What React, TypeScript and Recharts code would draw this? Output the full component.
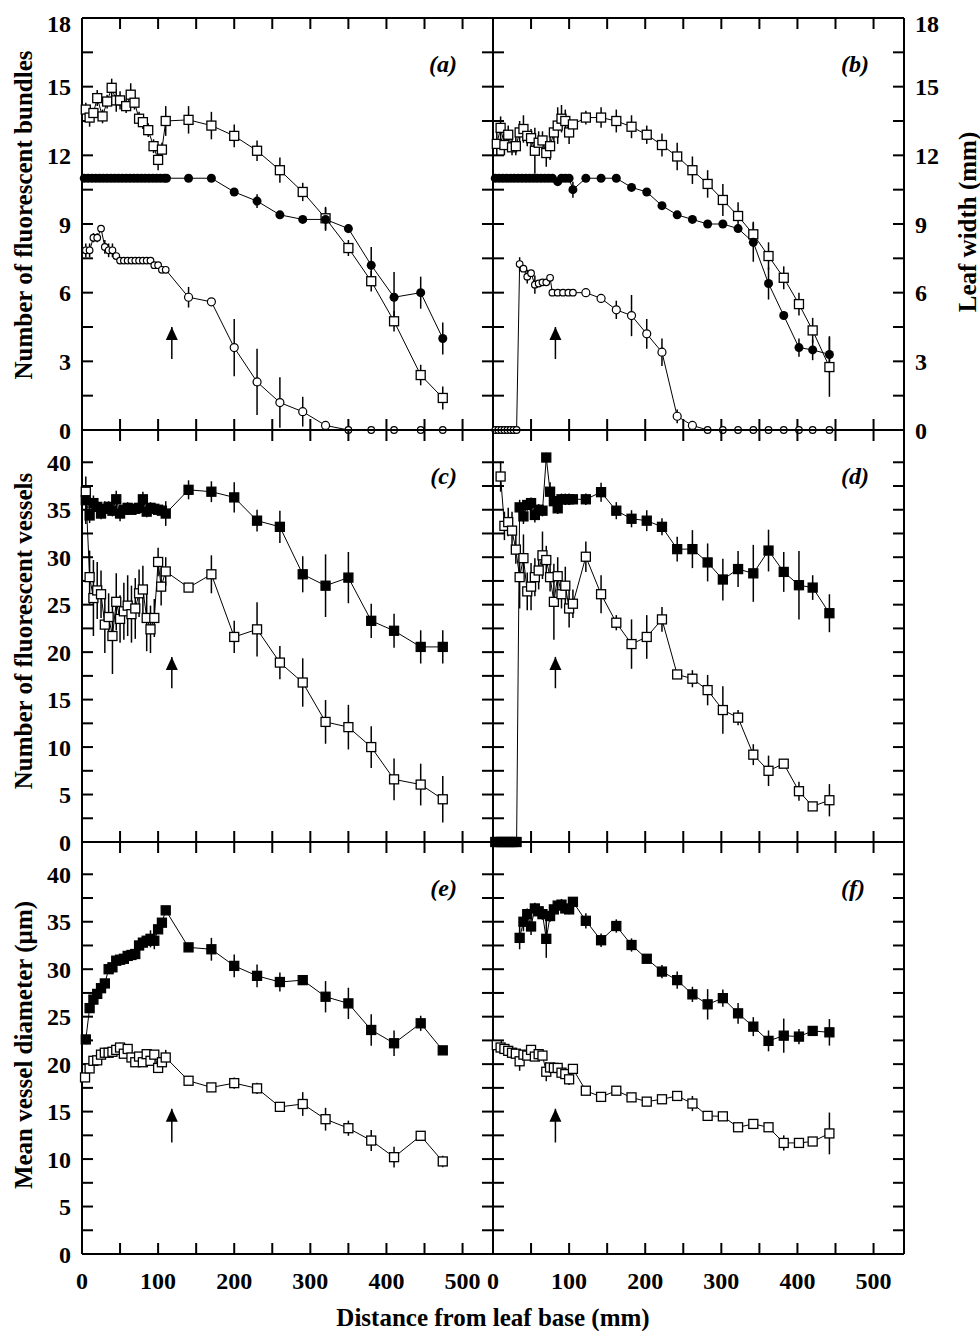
import React from "react";
import { LineChart, Line, XAxis, YAxis, ErrorBar, ReferenceLine, ReferenceDot } from "recharts";

// [distance (mm), value, s.e.]
type Pt = [number, number, number?];

// ---- panel (a): bundles / leaf width, left column
const aSquares: Pt[] = [
  [5, 14.0, 0.3], [10, 13.65, 0.4], [15, 13.85, 0.2], [20, 14.5, 0.35], [27, 13.7, 0.3], [33, 14.35, 0.3],
  [39, 14.95, 0.4], [45, 14.4, 0.5], [50, 14.4, 0.4], [58, 14.15, 0.3], [64, 14.65, 0.5], [69, 14.3, 0.3],
  [75, 13.6, 0.3], [80, 13.45, 0.3], [87, 13.1, 0.3], [94, 12.4, 0.3], [100, 11.8, 0.45], [105, 12.25, 0.3],
  [110, 13.5, 0.65], [140, 13.55, 0.6], [170, 13.3, 0.6], [200, 12.85, 0.5], [230, 12.2, 0.45], [260, 11.35, 0.55],
  [290, 10.4, 0.4], [320, 9.25, 0.5], [350, 7.95, 0.35], [380, 6.5, 0.45], [410, 4.75, 0.45], [445, 2.4, 0.45],
  [474, 1.4, 0.5],
];
const aFilled: Pt[] = [
  [3, 11], [8, 11], [13, 11], [18, 11], [23, 11], [28, 11], [33, 11], [38, 11], [43, 11], [48, 11], [53, 11],
  [58, 11], [63, 11], [68, 11], [73, 11], [78, 11], [83, 11], [88, 11], [93, 11], [98, 11], [103, 11], [108, 11],
  [111, 11], [140, 11], [170, 11], [200, 10.4, 0.15], [230, 10.0, 0.3], [260, 9.4, 0.1], [290, 9.2, 0.1],
  [320, 9.2, 0.5], [350, 8.8, 0.2], [380, 7.2, 0.8], [410, 5.8, 1.1], [445, 6.0, 0.7], [474, 4.0, 0.7],
];
const aCircles: Pt[] = [
  [5, 7.85, 0.3], [10, 7.85, 0.3], [15, 8.4, 0.2], [20, 8.4, 0.2], [25, 8.8], [30, 8.0, 0.3], [35, 7.85, 0.3],
  [40, 7.85, 0.3], [45, 7.6], [50, 7.4], [55, 7.4], [60, 7.4], [65, 7.4], [70, 7.4], [75, 7.4], [80, 7.4],
  [85, 7.4], [90, 7.4], [95, 7.2], [100, 7.2], [105, 7.0], [110, 7.0], [140, 5.8, 0.45], [170, 5.6],
  [200, 3.6, 1.25], [230, 2.1, 1.45], [260, 1.2, 1.1], [290, 0.8, 0.65], [320, 0.2], [350, 0], [380, 0],
  [410, 0], [445, 0], [474, 0],
];

// ---- panel (b)
const bSquares: Pt[] = [
  [5, 12.5, 0.5], [10, 13.2, 0.5], [15, 12.45, 0.45], [20, 12.9, 0.4], [25, 12.35, 0.35], [30, 12.4, 0.4],
  [35, 13.0, 0.5], [40, 13.15, 0.6], [45, 12.85, 0.45], [50, 12.75, 0.4], [55, 12.2, 1.0], [60, 12.55, 0.5],
  [65, 12.65, 0.4], [70, 12.1, 0.6], [75, 12.4, 0.6], [80, 13.0, 0.5], [85, 13.3, 0.8], [90, 13.6, 0.6],
  [95, 13.5, 0.5], [100, 13.0, 0.5], [105, 13.35], [122, 13.65, 0.3], [142, 13.65, 0.45], [162, 13.5, 0.5],
  [182, 13.25, 0.5], [202, 12.9, 0.4], [222, 12.45, 0.5], [242, 11.95, 0.6], [262, 11.35, 0.6],
  [282, 10.75, 0.6], [302, 10.05, 0.7], [322, 9.35, 0.6], [342, 8.55, 0.55], [362, 7.6, 0.6], [382, 6.65, 0.5],
  [402, 5.5, 0.5], [420, 4.35, 0.55], [442, 2.75, 1.3],
];
const bFilled: Pt[] = [
  [3, 11], [8, 11], [13, 11], [18, 11], [23, 11], [28, 11], [33, 11], [38, 11], [43, 11], [48, 11], [53, 11],
  [58, 11], [63, 11], [68, 11], [73, 11], [78, 11], [85, 10.85], [90, 11], [95, 11], [100, 11], [105, 10.5, 0.35],
  [122, 11], [142, 11], [162, 11], [182, 10.6], [202, 10.4], [222, 9.8], [242, 9.4], [262, 9.2], [282, 9.0],
  [302, 9.0], [322, 8.8], [342, 8.2, 0.85], [362, 6.4, 0.7], [382, 5.0], [402, 3.6, 0.4], [420, 3.5, 0.45],
  [442, 3.3, 0.8],
];
const bCircles: Pt[] = [
  [3, 0], [7, 0], [11, 0], [15, 0], [19, 0], [23, 0], [27, 0], [31, 0], [35, 7.25, 0.3], [40, 7.05],
  [45, 6.7, 0.3], [50, 6.85], [55, 6.35, 0.4], [60, 6.4], [65, 6.45], [70, 6.45], [75, 6.65], [78, 6.0],
  [85, 6.0], [92, 6.0], [99, 6.0], [105, 6.0], [122, 6.0], [142, 5.75], [162, 5.25, 0.4], [182, 5.0, 0.9],
  [202, 4.2, 0.65], [222, 3.4, 0.6], [242, 0.6, 0.3], [262, 0.2], [282, 0], [302, 0], [322, 0], [342, 0],
  [362, 0], [382, 0], [402, 0], [420, 0], [442, 0],
];

// ---- panel (c): fluorescent vessels
const cFilled: Pt[] = [
  [5, 36.0, 2.5], [10, 34.4, 0.8], [15, 35.7, 0.8], [20, 35.3, 0.6], [25, 34.6, 0.6], [30, 35.1, 0.8],
  [35, 35.3, 0.6], [40, 34.9, 0.6], [45, 36.1, 0.9], [50, 34.6, 0.8], [55, 35.0, 0.6], [60, 35.2, 0.6],
  [65, 35.0, 0.5], [70, 35.1, 0.6], [75, 35.2, 0.5], [80, 36.1, 0.8], [85, 34.8, 0.6], [90, 35.2, 0.6],
  [95, 35.1, 0.6], [100, 35.0, 0.5], [105, 34.9, 0.5], [110, 34.6, 1.3], [140, 37.1, 1.0], [170, 36.9, 1.1],
  [200, 36.3, 1.6], [230, 33.85, 1.15], [260, 33.2, 1.7], [290, 28.2, 1.9], [320, 27.0, 3.3], [350, 27.85, 2.7],
  [380, 23.3, 1.8], [410, 22.25, 1.8], [445, 20.55, 1.75], [474, 20.55, 1.75],
];
const cSquares: Pt[] = [
  [5, 36.9, 0.5], [10, 27.9, 2.8], [15, 25.7, 4.0], [20, 26.5, 3.0], [25, 26.1, 2.5], [30, 22.9, 3.0],
  [35, 23.7, 2.5], [40, 21.7, 4.0], [45, 25.3, 3.0], [50, 23.5, 2.5], [55, 24.3, 3.0], [60, 24.9, 3.2],
  [65, 24.0, 3.0], [70, 24.6, 3.2], [75, 26.2, 2.5], [80, 26.6, 2.5], [85, 23.6, 3.5], [90, 22.4, 2.5],
  [95, 23.6, 2.0], [100, 29.5, 1.5], [104, 26.9, 2.0], [110, 28.5, 1.5], [140, 26.8], [170, 28.2, 2.0],
  [200, 21.6, 1.7], [230, 22.4, 2.85], [260, 18.9, 1.75], [290, 16.8, 2.55], [320, 12.65, 2.3],
  [350, 12.1, 2.35], [380, 10.0, 2.2], [410, 6.6, 2.2], [445, 6.05, 2.2], [474, 4.5, 2.45],
];

// ---- panel (d)
const dFilled: Pt[] = [
  [3, 0], [7, 0], [11, 0], [15, 0], [19, 0], [23, 0], [27, 0], [31, 0], [35, 35.25, 0.8], [40, 34.3, 0.8],
  [45, 35.5, 0.6], [50, 35.7, 0.6], [55, 34.45, 0.8], [60, 35.0, 0.6], [65, 34.9, 0.6], [70, 40.5, 0.5],
  [75, 36.9, 1.0], [80, 35.9, 0.6], [85, 35.15, 0.6], [90, 36.1, 0.6], [95, 36.1, 0.6], [100, 36.1, 0.6],
  [105, 36.1, 0.5], [122, 36.1, 0.6], [142, 36.85, 1.0], [162, 34.9, 0.9], [182, 34.05, 0.9], [202, 33.85, 1.1],
  [222, 33.2, 0.9], [242, 30.85, 1.3], [262, 30.85, 2.0], [282, 29.45, 2.0], [302, 27.65, 2.2], [322, 28.75, 1.9],
  [342, 28.3, 3.0], [362, 30.7, 2.2], [382, 28.45, 2.1], [402, 27.05, 3.6], [420, 26.8, 1.3], [442, 24.1, 2.0],
];
const dSquares: Pt[] = [
  [10, 38.5, 1.6], [15, 33.3, 1.5], [20, 33.7, 1.5], [25, 32.8, 2.0], [30, 30.8, 1.5], [35, 27.9, 3.3],
  [40, 29.9, 2.5], [45, 26.4, 2.0], [50, 26.9, 2.5], [55, 27.9, 2.0], [60, 28.6, 2.0], [65, 30.2, 2.5],
  [70, 29.7, 1.5], [75, 27.9, 1.5], [80, 25.3, 4.0], [85, 28.0, 2.0], [90, 26.1, 1.5], [95, 27.0, 2.0],
  [100, 24.6, 2.0], [105, 25.1, 1.5], [122, 30.05, 1.6], [142, 26.1, 2.0], [162, 23.1, 0.8], [182, 20.85, 2.6],
  [202, 21.6, 2.3], [222, 23.45, 1.3], [242, 17.65], [262, 17.2, 0.9], [282, 16.0, 1.6], [302, 13.9, 2.5],
  [322, 13.1, 0.8], [342, 9.2, 1.1], [362, 7.5, 1.6], [382, 8.25], [402, 5.35, 1.0], [420, 3.75], [442, 4.4, 1.7],
];

// ---- panel (e): mean vessel diameter
const eFilled: Pt[] = [
  [5, 22.6, 0.5], [10, 25.9, 0.5], [15, 26.8, 0.4], [20, 27.4, 0.4], [25, 28.0, 0.4], [30, 28.5, 0.4],
  [35, 30.0, 0.5], [40, 30.2, 0.6], [45, 30.9, 0.5], [50, 31.0, 0.6], [55, 31.1, 0.5], [60, 31.4, 0.6],
  [65, 31.5, 0.6], [70, 31.6, 0.5], [75, 32.5, 0.6], [80, 32.8, 0.5], [85, 33.0, 0.6], [90, 33.2, 0.9],
  [95, 33.0, 0.9], [100, 34.2, 0.5], [105, 34.9, 0.5], [110, 36.2, 0.3], [140, 32.3], [170, 32.1, 1.2],
  [200, 30.35, 1.2], [230, 29.3, 1.2], [260, 28.65, 1.0], [290, 28.85, 0.3], [320, 27.1, 1.65], [350, 26.4, 1.65],
  [380, 23.6, 1.65], [410, 22.2, 1.35], [445, 24.3, 0.8], [474, 21.45],
];
const eSquares: Pt[] = [
  [4, 18.6, 0.4], [10, 19.55, 0.4], [15, 20.35, 0.4], [20, 20.4, 0.3], [25, 21.0, 0.3], [30, 21.2, 0.3],
  [35, 21.2, 0.3], [40, 21.3, 0.4], [45, 21.5, 0.5], [50, 21.75, 0.5], [55, 21.1, 0.4], [60, 21.6, 0.4],
  [65, 20.7, 0.3], [70, 20.2, 0.3], [75, 20.8, 0.3], [80, 20.2, 0.3], [85, 21.05, 0.3], [90, 20.35, 0.4],
  [95, 21.0, 0.4], [100, 19.6, 0.3], [105, 20.2, 0.3], [110, 20.7, 0.8], [140, 18.25], [170, 17.55],
  [200, 18.0, 0.6], [230, 17.45, 0.6], [260, 15.5], [290, 15.8, 1.25], [320, 14.2, 1.2], [350, 13.25, 0.8],
  [380, 11.95, 1.1], [410, 10.2, 1.1], [445, 12.45], [474, 9.75, 0.6],
];

// ---- panel (f)
const fFilled: Pt[] = [
  [35, 33.3, 1.2], [40, 35.0, 1.0], [45, 35.8, 0.6], [50, 34.5, 0.9], [55, 36.4, 0.6], [60, 36.1, 0.6],
  [65, 35.8, 0.6], [70, 33.2, 2.0], [75, 35.6, 0.6], [80, 36.3, 0.6], [85, 36.7, 0.6], [90, 36.8, 0.6],
  [95, 36.4, 0.6], [100, 36.3, 0.5], [105, 37.1, 0.3], [122, 35.1, 0.8], [142, 33.05, 0.7], [162, 34.55, 0.7],
  [182, 32.55, 0.7], [202, 31.1, 0.5], [222, 29.75, 0.7], [242, 28.85, 0.9], [262, 27.35, 0.8], [282, 26.3, 1.6],
  [302, 26.95, 0.9], [322, 25.35, 1.1], [342, 23.95, 1.0], [362, 22.45, 1.1], [382, 23.0, 1.8], [402, 22.9, 0.8],
  [420, 23.5], [442, 23.35, 1.4],
];
const fSquares: Pt[] = [
  [5, 22.0, 0.3], [10, 21.75, 0.3], [15, 21.6, 0.3], [20, 21.4, 0.3], [25, 21.2, 0.3], [30, 21.1, 0.3],
  [35, 20.3, 1.0], [40, 21.0, 0.3], [45, 20.9, 0.3], [50, 21.5, 0.3], [55, 20.8, 0.4], [60, 21.05, 0.3],
  [65, 20.9, 0.3], [70, 19.2, 1.0], [75, 19.65, 0.3], [80, 19.6, 0.3], [85, 19.6, 0.3], [90, 19.1, 0.4],
  [95, 18.95, 0.3], [100, 18.4, 0.6], [105, 19.5], [122, 17.2], [142, 16.55], [162, 17.2], [182, 16.5],
  [202, 16.05], [222, 16.3], [242, 16.65], [262, 15.85, 0.8], [282, 14.55], [302, 14.5], [322, 13.35],
  [342, 13.7], [362, 13.35], [382, 11.7, 0.8], [402, 11.7], [420, 11.85], [442, 12.7, 2.2],
];

// arrows: x position per column, [base, tip] per row
const arrowX = [118, 82];
const arrowY: [number, number][] = [[3.1, 4.5], [16.2, 19.5], [11.75, 15.3]];

const xTicks = [0, 50, 100, 150, 200, 250, 300, 350, 400, 450, 500];
const bundleTicks = [0, 1.5, 3, 4.5, 6, 7.5, 9, 10.5, 12, 13.5, 15, 16.5, 18];
const vesselTicks = [0, 2.5, 5, 7.5, 10, 12.5, 15, 17.5, 20, 22.5, 25, 27.5, 30, 32.5, 35, 37.5, 40];

const FONT = "'Liberation Serif', 'Times New Roman', serif";
const lineStyle = { stroke: "#000", strokeWidth: 2 };

type Kind = "osq" | "fsq" | "oc" | "fc";

const marker = (kind: Kind) => (p: any) => {
  const { cx, cy, index, payload } = p;
  const key = `${kind}-${index}`;
  if (cx == null || cy == null) return <g key={key} />;
  if (kind === "osq" || kind === "fsq") {
    return (
      <rect key={key} x={cx - 4.5} y={cy - 4.5} width={9} height={9}
        fill={kind === "fsq" ? "#000" : "#fff"} stroke="#000" strokeWidth={1.3} />
    );
  }
  if (kind === "fc") return <circle key={key} cx={cx} cy={cy} r={4.5} fill="#000" />;
  const small = payload && (payload.x <= 112 || payload.y === 0);
  return <circle key={key} cx={cx} cy={cy} r={small ? 3.3 : 4} fill="#fff" stroke="#000" strokeWidth={1.2} />;
};

const toRows = (pts: Pt[]) => pts.map(([x, y, e]) => ({ x, y, e: e ?? 0 }));

const labelEvery = (show: boolean, step: number) => (v: number) =>
  show && Math.abs(v / step - Math.round(v / step)) < 1e-6 ? String(v) : "";

// tick text; the topmost label (18) sits a little lower, as in the original
const makeTick = (fmt: (v: number) => string, topValue?: number) => (p: any) => {
  const v = p.payload?.value;
  const text = fmt(v);
  const dy = p.verticalAnchor === "start" ? "0.71em" : "0.355em";
  const shift = topValue != null && v === topValue ? 5 : 0;
  return (
    <text x={p.x} y={p.y + shift} dy={dy} textAnchor={p.textAnchor}
      style={{ fontFamily: FONT, fontSize: 24, fontWeight: 700, fill: "#000" }}>
      {text}
    </text>
  );
};

interface Series { pts: Pt[]; kind: Kind }
interface PanelProps {
  x0: number; y0: number; w: number; h: number;
  yMax: number; yTicks: number[]; yStep: number;
  leftLabels: boolean; rightLabels: boolean; bottomLabels: boolean;
  series: Series[]; ax: number; arrow: [number, number];
}

function Panel(props: PanelProps) {
  const { x0, y0, w, h, yMax, yTicks, yStep, leftLabels, rightLabels, bottomLabels, series, ax, arrow } = props;
  const margin = { top: y0 - 1, left: x0 - 60, right: 980 - (x0 + w) - 60, bottom: 1331 - (y0 + h) - 40 };
  return (
    <div style={{ position: "absolute", left: 0, top: 0 }}>
      <LineChart width={980} height={1331} margin={margin}>
        <XAxis xAxisId="b" dataKey="x" type="number" domain={[0, 540]} ticks={xTicks} interval={0}
          orientation="bottom" height={40} tickSize={-11} tickMargin={29}
          axisLine={lineStyle} tickLine={lineStyle} tick={makeTick(labelEvery(bottomLabels, 100))} />
        <XAxis xAxisId="t" dataKey="x" type="number" domain={[0, 540]} ticks={xTicks} interval={0} allowDataOverflow
          orientation="top" height={1} tickSize={-11}
          axisLine={lineStyle} tickLine={lineStyle} tick={makeTick(() => "")} />
        <YAxis yAxisId="l" type="number" domain={[0, yMax]} ticks={yTicks} interval={0} width={60}
          tickSize={-11} tickMargin={22}
          axisLine={lineStyle} tickLine={lineStyle} tick={makeTick(labelEvery(leftLabels, yStep), 18)} />
        <YAxis yAxisId="r" orientation="right" type="number" domain={[0, yMax]} ticks={yTicks} interval={0}
          allowDataOverflow width={60} tickSize={-11} tickMargin={22}
          axisLine={lineStyle} tickLine={lineStyle} tick={makeTick(labelEvery(rightLabels, yStep), 18)} />
        {series.map((s, i) => (
          <Line key={i} xAxisId="b" yAxisId="l" data={toRows(s.pts)} dataKey="y" stroke="#000" strokeWidth={1}
            dot={marker(s.kind)} activeDot={false} isAnimationActive={false}>
            <ErrorBar dataKey="e" direction="y" width={0} stroke="#000" strokeWidth={1.5} />
          </Line>
        ))}
        <ReferenceLine xAxisId="b" yAxisId="l" segment={[{ x: ax, y: arrow[0] }, { x: ax, y: arrow[1] }]}
          stroke="#000" strokeWidth={1.5} />
        <ReferenceDot xAxisId="b" yAxisId="l" x={ax} y={arrow[1]} r={6}
          shape={(p: any) => (
            <polygon points={`${p.cx},${p.cy} ${p.cx - 6},${p.cy + 13} ${p.cx + 6},${p.cy + 13}`} fill="#000" />
          )} />
      </LineChart>
    </div>
  );
}

const colX = [82, 493];
const rowY = [18, 430, 842];
const W = 411;
const H = 412;

export default function App() {
  const titleStyle = { fontFamily: FONT, fontSize: 25, fontWeight: 700, fill: "#000" };
  const tagStyle = { fontFamily: FONT, fontSize: 24, fontWeight: 700, fontStyle: "italic" as const, fill: "#000" };
  return (
    <div style={{ position: "absolute", left: 0, top: 0, width: 980, height: 1331, background: "#fff", overflow: "hidden" }}>
      <Panel x0={colX[0]} y0={rowY[0]} w={W} h={H} yMax={18} yTicks={bundleTicks} yStep={3}
        leftLabels rightLabels={false} bottomLabels={false} ax={arrowX[0]} arrow={arrowY[0]}
        series={[{ pts: aSquares, kind: "osq" }, { pts: aFilled, kind: "fc" }, { pts: aCircles, kind: "oc" }]} />
      <Panel x0={colX[1]} y0={rowY[0]} w={W} h={H} yMax={18} yTicks={bundleTicks} yStep={3}
        leftLabels={false} rightLabels bottomLabels={false} ax={arrowX[1]} arrow={arrowY[0]}
        series={[{ pts: bSquares, kind: "osq" }, { pts: bFilled, kind: "fc" }, { pts: bCircles, kind: "oc" }]} />
      <Panel x0={colX[0]} y0={rowY[1]} w={W} h={H} yMax={43.4} yTicks={vesselTicks} yStep={5}
        leftLabels rightLabels={false} bottomLabels={false} ax={arrowX[0]} arrow={arrowY[1]}
        series={[{ pts: cSquares, kind: "osq" }, { pts: cFilled, kind: "fsq" }]} />
      <Panel x0={colX[1]} y0={rowY[1]} w={W} h={H} yMax={43.4} yTicks={vesselTicks} yStep={5}
        leftLabels={false} rightLabels={false} bottomLabels={false} ax={arrowX[1]} arrow={arrowY[1]}
        series={[{ pts: dSquares, kind: "osq" }, { pts: dFilled, kind: "fsq" }]} />
      <Panel x0={colX[0]} y0={rowY[2]} w={W} h={H} yMax={43.4} yTicks={vesselTicks} yStep={5}
        leftLabels rightLabels={false} bottomLabels ax={arrowX[0]} arrow={arrowY[2]}
        series={[{ pts: eSquares, kind: "osq" }, { pts: eFilled, kind: "fsq" }]} />
      <Panel x0={colX[1]} y0={rowY[2]} w={W} h={H} yMax={43.4} yTicks={vesselTicks} yStep={5}
        leftLabels={false} rightLabels={false} bottomLabels ax={arrowX[1]} arrow={arrowY[2]}
        series={[{ pts: fSquares, kind: "osq" }, { pts: fFilled, kind: "fsq" }]} />
      <svg width={980} height={1331} style={{ position: "absolute", left: 0, top: 0, pointerEvents: "none" }}>
        <text transform="translate(32,215) rotate(-90)" textAnchor="middle" style={titleStyle}>Number of fluorescent bundles</text>
        <text transform="translate(32,631) rotate(-90)" textAnchor="middle" style={titleStyle}>Number of fluorescent vessels</text>
        <text transform="translate(32,1045) rotate(-90)" textAnchor="middle" style={titleStyle}>Mean vessel diameter (µm)</text>
        <text transform="translate(976,222) rotate(-90)" textAnchor="middle" style={titleStyle}>Leaf width (mm)</text>
        <text x={493} y={1326} textAnchor="middle" style={titleStyle}>Distance from leaf base (mm)</text>
        <text x={457} y={72} textAnchor="end" style={tagStyle}>(a)</text>
        <text x={869} y={72} textAnchor="end" style={tagStyle}>(b)</text>
        <text x={457} y={484} textAnchor="end" style={tagStyle}>(c)</text>
        <text x={869} y={484} textAnchor="end" style={tagStyle}>(d)</text>
        <text x={457} y={896} textAnchor="end" style={tagStyle}>(e)</text>
        <text x={865} y={896} textAnchor="end" style={tagStyle}>(f)</text>
      </svg>
    </div>
  );
}
